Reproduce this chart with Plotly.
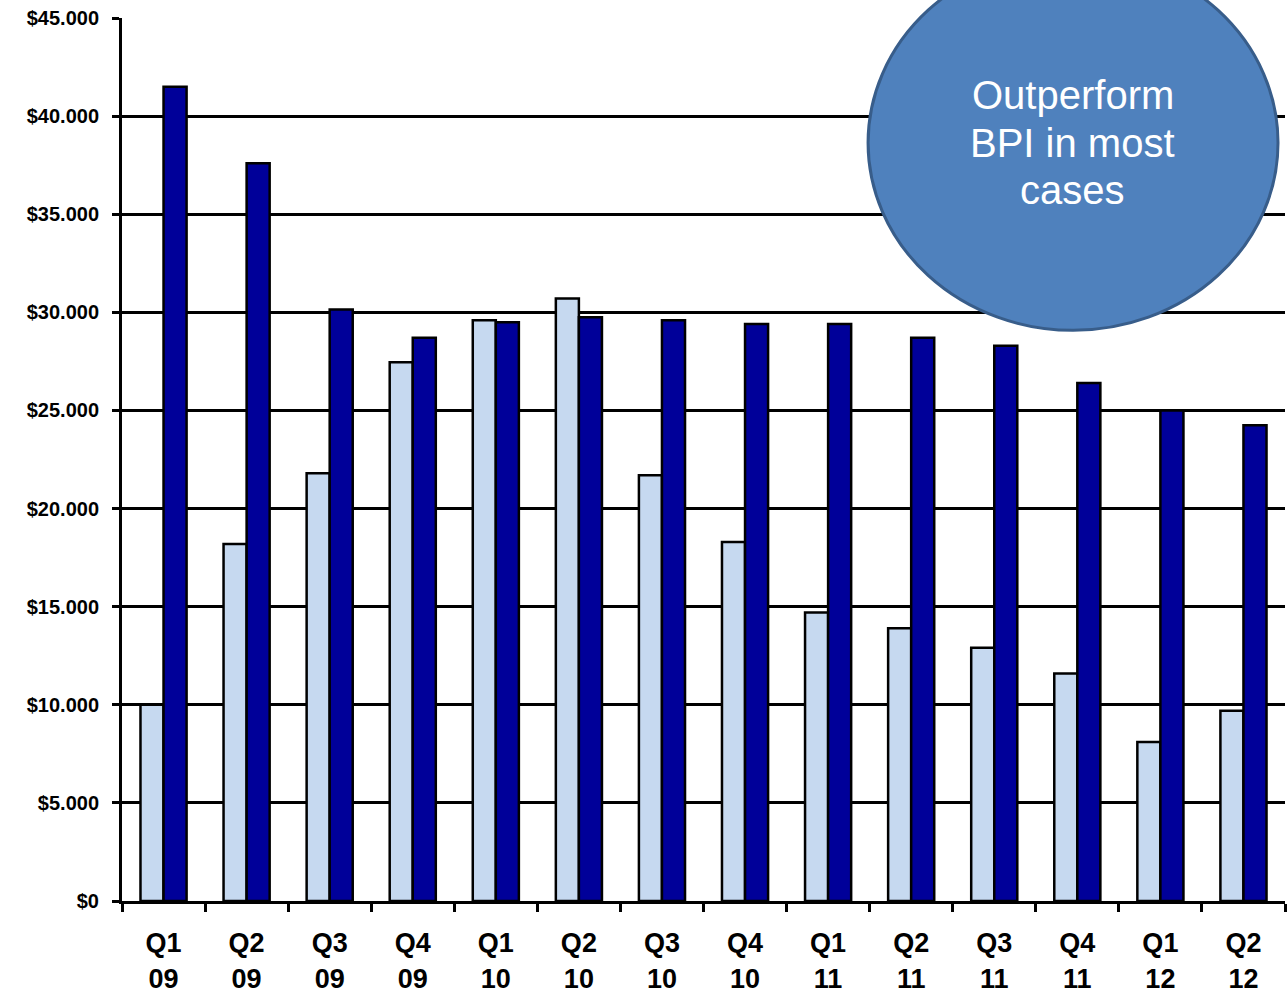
import plotly.graph_objects as go

# Quarterly values per share class (USD)
quarters = ["Q1<br>09", "Q2<br>09", "Q3<br>09", "Q4<br>09",
            "Q1<br>10", "Q2<br>10", "Q3<br>10", "Q4<br>10",
            "Q1<br>11", "Q2<br>11", "Q3<br>11", "Q4<br>11",
            "Q1<br>12", "Q2<br>12"]
bpi_values = [10000, 18200, 21800, 27450, 29600, 30700, 21700,
              18300, 14700, 13900, 12900, 11600, 8100, 9700]
fund_values = [41500, 37600, 30150, 28700, 29500, 29750, 29600,
               29400, 29400, 28700, 28300, 26400, 25000, 24250]

y_ticks = [0, 5000, 10000, 15000, 20000, 25000, 30000, 35000, 40000, 45000]
y_tick_text = ["$0", "$5.000", "$10.000", "$15.000", "$20.000", "$25.000",
               "$30.000", "$35.000", "$40.000", "$45.000"]

callout_lines = ["Outperform", "BPI in most", "cases"]

FONT = "Arial, Liberation Sans, sans-serif"

fig = go.Figure()
fig.add_trace(go.Bar(
    x=quarters, y=bpi_values, name="BPI",
    marker=dict(color="#C6D9F0", line=dict(color="#000000", width=2.5)),
))
fig.add_trace(go.Bar(
    x=quarters, y=fund_values, name="Fund",
    marker=dict(color="#000099", line=dict(color="#000000", width=2.5)),
))

fig.update_layout(
    width=1288, height=997,
    margin=dict(l=122, r=3, t=18, b=94),
    paper_bgcolor="white", plot_bgcolor="white",
    barmode="group", bargap=0.445, bargroupgap=0,
    showlegend=False,
    font=dict(family=FONT, color="#000000"),
)

fig.update_xaxes(
    type="category", range=[-0.5, 13.5],
    showline=True, linecolor="#000000", linewidth=3,
    ticks="outside", tickson="boundaries", ticklen=8, tickwidth=3,
    tickcolor="#000000", showgrid=False,
    tickfont=dict(family=FONT, size=27, color="#000000", weight="bold"),
    ticklabelstandoff=16,
)
fig.update_yaxes(
    range=[0, 45000],
    tickvals=y_ticks, ticktext=y_tick_text,
    showline=True, linecolor="#000000", linewidth=3,
    ticks="outside", ticklen=7, tickwidth=3, tickcolor="#000000",
    showgrid=True, gridcolor="#000000", gridwidth=3,
    zeroline=False,
    tickfont=dict(family=FONT, size=20, color="#000000", weight="bold"),
    ticklabelstandoff=9,
)

# Callout ellipse in the upper right
fig.add_shape(
    type="circle", xref="paper", yref="paper",
    x0=0.6415, x1=0.994, y0=0.6463, y1=1.071,
    fillcolor="#4F81BD", line=dict(color="#385D8A", width=3),
    layer="above",
)
# One text line per annotation, stacked ~47 px apart
line_step = 47.5 / 885
for i, line in enumerate(callout_lines):
    fig.add_annotation(
        xref="paper", yref="paper", x=0.8177, y=0.8588 + (1 - i) * line_step,
        text=line, showarrow=False,
        font=dict(family=FONT, size=40, color="#FFFFFF"),
        align="center", xanchor="center", yanchor="middle",
    )

fig.write_html("out.html")
